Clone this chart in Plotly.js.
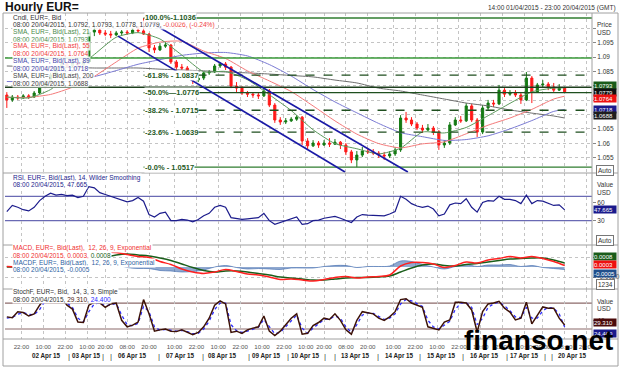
<!DOCTYPE html>
<html>
<head>
<meta charset="utf-8">
<script src="https://cdn.plot.ly/plotly-3.0.1.min.js"></script>
<style>
html,body{margin:0;padding:0;background:#fff;overflow:hidden;}
#chart{width:620px;height:369px;}
</style>
</head>
<body>
<div id="chart"></div>
<script>
// ---------------- DATA ----------------
const barHours = 3;          // one candle = 3 trading hours, x = trading-hour index from 14:00 01/04
const priceOpen = [
1.0768,1.0751,1.0761,1.0758,1.0765,1.0761,1.0775,1.0796,1.0813,1.0838,
1.0862,1.0876,1.0869,1.0879,1.0872,1.0883,1.0987,1.0994,1.0984,1.0980,
1.0977,1.0984,1.0987,1.0984,1.0994,1.0991,1.0980,1.0932,1.0925,1.0938,
1.0942,1.0883,1.0865,1.0862,1.0841,1.0820,1.0827,1.0845,1.0848,1.0869,
1.0876,1.0865,1.0799,1.0792,1.0775,1.0771,1.0768,1.0765,1.0782,1.0733,
1.0681,1.0674,1.0678,1.0684,1.0691,1.0608,1.0591,1.0601,1.0594,1.0601,
1.0597,1.0604,1.0594,1.0570,1.0542,1.0559,1.0573,1.0570,1.0566,1.0559,
1.0556,1.0563,1.0577,1.0688,1.0681,1.0667,1.0653,1.0646,1.0653,1.0639,
1.0594,1.0601,1.0664,1.0681,1.0678,1.0730,1.0681,1.0639,1.0723,1.0740,
1.0737,1.0785,1.0771,1.0775,1.0768,1.0751,1.0827,1.0778,1.0803,1.0806,
1.0796,1.0785,1.0792];
const priceHigh = [
1.0778,1.0768,1.0768,1.0771,1.0771,1.0782,1.0803,1.0820,1.0845,1.0869,
1.0883,1.0883,1.0886,1.0883,1.0890,1.1005,1.1012,1.1001,1.0994,1.0991,
1.0991,1.0994,1.0994,1.1001,1.1008,1.1036,1.0984,1.0942,1.0949,1.0952,
1.0945,1.0890,1.0876,1.0869,1.0848,1.0834,1.0848,1.0855,1.0876,1.0883,
1.0883,1.0869,1.0813,1.0799,1.0782,1.0778,1.0778,1.0796,1.0789,1.0740,
1.0691,1.0688,1.0691,1.0698,1.0695,1.0618,1.0611,1.0608,1.0611,1.0618,
1.0615,1.0608,1.0601,1.0577,1.0573,1.0587,1.0584,1.0580,1.0573,1.0570,
1.0573,1.0587,1.0698,1.0709,1.0691,1.0674,1.0664,1.0667,1.0660,1.0646,
1.0611,1.0674,1.0691,1.0695,1.0740,1.0737,1.0688,1.0733,1.0751,1.0751,
1.0803,1.0792,1.0785,1.0785,1.0775,1.0848,1.0834,1.0810,1.0820,1.0813,
1.0810,1.0806,1.0793];
const priceLow = [
1.0723,1.0744,1.0751,1.0754,1.0754,1.0758,1.0771,1.0792,1.0806,1.0834,
1.0855,1.0862,1.0865,1.0865,1.0869,1.0876,1.0973,1.0977,1.0973,1.0966,
1.0973,1.0977,1.0977,1.0980,1.0984,1.0977,1.0918,1.0914,1.0921,1.0932,
1.0876,1.0855,1.0855,1.0834,1.0806,1.0813,1.0820,1.0838,1.0845,1.0862,
1.0855,1.0792,1.0778,1.0768,1.0761,1.0758,1.0754,1.0761,1.0726,1.0671,
1.0664,1.0667,1.0674,1.0678,1.0594,1.0580,1.0587,1.0584,1.0591,1.0587,
1.0594,1.0580,1.0559,1.0531,1.0517,1.0552,1.0563,1.0559,1.0549,1.0542,
1.0549,1.0556,1.0570,1.0671,1.0660,1.0646,1.0636,1.0643,1.0629,1.0577,
1.0584,1.0594,1.0660,1.0671,1.0674,1.0674,1.0622,1.0632,1.0716,1.0726,
1.0733,1.0761,1.0765,1.0761,1.0737,1.0747,1.0740,1.0775,1.0792,1.0785,
1.0778,1.0782,1.0778];
const priceClose = [
1.0751,1.0761,1.0758,1.0765,1.0761,1.0775,1.0796,1.0813,1.0838,1.0862,
1.0876,1.0869,1.0879,1.0872,1.0883,1.0987,1.0994,1.0984,1.0980,1.0977,
1.0984,1.0987,1.0984,1.0994,1.0991,1.0980,1.0932,1.0925,1.0938,1.0942,
1.0883,1.0865,1.0862,1.0841,1.0820,1.0827,1.0845,1.0848,1.0869,1.0876,
1.0865,1.0799,1.0792,1.0775,1.0771,1.0768,1.0765,1.0782,1.0733,1.0681,
1.0674,1.0678,1.0684,1.0691,1.0608,1.0591,1.0601,1.0594,1.0601,1.0597,
1.0604,1.0594,1.0570,1.0542,1.0559,1.0573,1.0570,1.0566,1.0559,1.0556,
1.0563,1.0577,1.0688,1.0681,1.0667,1.0653,1.0646,1.0653,1.0639,1.0594,
1.0601,1.0664,1.0681,1.0678,1.0730,1.0681,1.0639,1.0723,1.0740,1.0737,
1.0785,1.0771,1.0775,1.0768,1.0751,1.0827,1.0778,1.0803,1.0806,1.0796,
1.0785,1.0792,1.0779];

const smaHours = [0,12,24,36,48,60,72,84,96,108,120,132,144,156,168,180,192,204,216,228,240,252,264,276,288,300,306];
const sma21  = [1.0761,1.0758,1.0787,1.0848,1.0909,1.0969,1.0985,1.0963,1.0907,1.0849,1.0850,1.0821,1.0769,1.0714,1.0647,1.0599,1.0581,1.0563,1.0583,1.0639,1.0636,1.0655,1.0696,1.0739,1.0779,1.0792,1.0793];
const sma55  = [1.0760,1.0760,1.0770,1.0795,1.0833,1.0883,1.0931,1.0952,1.0955,1.0921,1.0895,1.0852,1.0817,1.0780,1.0730,1.0678,1.0632,1.0599,1.0584,1.0598,1.0605,1.0633,1.0663,1.0688,1.0718,1.0754,1.0764];
const sma89  = [1.0815,1.0814,1.0811,1.0818,1.0832,1.0853,1.0875,1.0891,1.0906,1.0914,1.0916,1.0904,1.0874,1.0834,1.0787,1.0744,1.0706,1.0669,1.0637,1.0623,1.0610,1.0613,1.0626,1.0650,1.0679,1.0711,1.0718];
const sma200 = [1.0869,1.0867,1.0865,1.0864,1.0862,1.0862,1.0862,1.0858,1.0855,1.0852,1.0848,1.0845,1.0841,1.0836,1.0831,1.0820,1.0810,1.0792,1.0782,1.0768,1.0754,1.0740,1.0730,1.0716,1.0705,1.0695,1.0688];

const fibLevels = [1.1036,1.0837,1.0776,1.0715,1.0639,1.0517];
const fibLabels = ['100.0%-1.1036','-61.8% - 1.0837','-50.0%\u20141.0776','-38.2% - 1.0715','-23.6% - 1.0639','-0.0% - 1.0517'];
const fibDashed = [false,true,false,true,true,false];
const fibStartHour = 75;
const supportLevels = [1.0897,1.0795];
const channelUpper = {h:[78.5,220], p:[1.1022,1.0500]};
const channelLower = {h:[61,185.5], p:[1.0973,1.0500]};

const rsi = [45,55,52,48,46,52,63,70,75,72, 73,71,72,68,70,86,84,76,73,70,
66,63,61,63,68,62,40,36,42,44, 30,30,32,31,28,32,38,42,52,55,
52,35,34,32,33,34,35,42,30,24, 27,30,33,36,24,25,30,31,34,35,
37,34,30,27,36,40,39,39,38,38, 41,45,70,65,58,54,52,54,49,38,
41,56,59,58,66,52,44,60,63,62, 70,65,65,63,58,72,58,63,62,58,
55,56,47.665];
const rsiLevels = [70,30];

const macdStepHours = 6;
const macdLine = [0.0001,0.0000,-0.0001,0.0002,0.0006,0.0010,0.0012,0.0011,0.0024,0.0030,
0.0029,0.0025,0.0021,0.0019,0.0011,0.0005,-0.0004,-0.0010,-0.0013,-0.0010,
-0.0005,-0.0009,-0.0014,-0.0016,-0.0020,-0.0025,-0.0024,-0.0026,-0.0028,-0.0025,
-0.0021,-0.0019,-0.0022,-0.0020,-0.0019,-0.0016,0.0002,0.0009,0.0009,0.0006,
-0.0001,0.0003,0.0010,0.0008,0.0014,0.0017,0.0021,0.0018,0.0021,0.0017,
0.0011,0.0003];
const macdSignal = [0.0000,0.0000,0.0000,0.0000,0.0002,0.0005,0.0008,0.0010,0.0013,0.0019,
0.0024,0.0026,0.0024,0.0022,0.0018,0.0013,0.0006,-0.0001,-0.0007,-0.0010,
-0.0008,-0.0008,-0.0010,-0.0013,-0.0016,-0.0020,-0.0022,-0.0024,-0.0026,-0.0026,
-0.0024,-0.0022,-0.0021,-0.0021,-0.0020,-0.0018,-0.0010,-0.0002,0.0004,0.0006,
0.0003,0.0002,0.0005,0.0007,0.0010,0.0013,0.0016,0.0017,0.0018,0.0018,
0.0014,0.0008];
const macdHist = [0.0001,0.0000,-0.0001,0.0002,0.0004,0.0005,0.0004,0.0001,0.0011,0.0011,
0.0005,-0.0001,-0.0003,-0.0003,-0.0007,-0.0008,-0.0010,-0.0009,-0.0006,0.0000,
0.0003,-0.0001,-0.0004,-0.0003,-0.0004,-0.0005,-0.0002,-0.0002,-0.0002,0.0001,
0.0003,0.0003,-0.0001,0.0001,0.0001,0.0002,0.0012,0.0011,0.0005,0.0000,
-0.0004,0.0001,0.0005,0.0001,0.0004,0.0004,0.0005,0.0001,0.0003,-0.0001,
-0.0003,-0.0005];

const stochK = [48,46,60,58,50,55,75,92,95,90, 92,75,66,36,35,75,82,80,70,78,
80,40,25,29,36,88,55,15,18,20, 15,14,18,12,7,12,25,45,75,85,
78,12,15,10,18,22,25,50,15,5, 15,30,45,55,8,10,28,35,45,42,
55,40,18,8,40,60,58,55,45,40, 48,60,88,90,80,75,70,25,22,18,
36,41,82,82,80,64,13,60,78,80, 84,68,59,41,45,82,32,52,71,68,
68,45,29.31];
const stochD = [45,47,54,58,54,53,65,85,93,92, 91,80,70,45,36,60,78,81,73,76,
79,52,30,27,33,72,60,25,17,19, 17,15,17,14,9,10,20,38,65,80,
80,30,16,12,15,20,24,42,24,9, 12,25,40,52,22,10,22,32,42,43,
50,45,25,12,30,52,58,56,49,42, 45,55,78,88,85,78,72,40,25,20,
28,38,65,80,81,70,30,45,70,78, 82,74,62,48,46,70,45,45,62,70,
68,55,24.4];
const stochLevels = [80,20];

const timeTickHours = [8,20,32,44,54,66,78,92,104,116,128,140,152,164,174,186,198,212,224,236,248,260,272,284,294,306,318];
const timeTickLabels = ['22:00','10:00','22:00','10:00','20:00','08:00','20:00','10:00','22:00','10:00','22:00','10:00','22:00','10:00','20:00','08:00','20:00','10:00','22:00','10:00','22:00','10:00','22:00','10:00','20:00','08:00','20:00'];
const dateLabelHours = [22,43.5,69,95.5,118.5,142.5,164,191.5,215.5,238.5,262,284,310.5];
const dateLabels = ['02 Apr 15','03 Apr 15','06 Apr 15','07 Apr 15','08 Apr 15','09 Apr 15','10 Apr 15','13 Apr 15','14 Apr 15','15 Apr 15','16 Apr 15','17 Apr 15','20 Apr 15'];
const daySeparatorHours = [34,52.5,57,83.5,107.5,133,154.5,174.5,180,203.5,226.5,250.5,274.5,295,299];
const priceTicks = [1.055,1.06,1.065,1.07,1.075,1.08,1.085,1.09,1.095,1.1];
const priceTickText = ['1.055','1.06','1.065','','','','1.085','1.09','1.095',''];

// ---------------- LAYOUT HELPERS ----------------
const W = 620, H = 369, ML = 5, MR = 28;
const FONT = 'Liberation Sans, Arial, sans-serif';
const px = p => (p - ML) / (W - ML - MR);
const py = p => 1 - p / H;
const X_RANGE = [-1, 321];

const barX = priceClose.map((_, i) => i * barHours);
const macdX = macdLine.map((_, i) => i * macdStepHours);
const last = a => a[a.length - 1];
const f4 = v => v.toFixed(4);

const traces = [];
traces.push({type:'candlestick', x:barX, open:priceOpen, high:priceHigh, low:priceLow, close:priceClose,
  xaxis:'x', yaxis:'y', whiskerwidth:0, hoverinfo:'skip',
  increasing:{line:{color:'#147a14', width:1}, fillcolor:'#147a14'},
  decreasing:{line:{color:'#ff1a1a', width:1}, fillcolor:'#ff1a1a'}});
const smaDefs = [[sma200,'#6e6e6e'],[sma89,'#7b7bd4'],[sma55,'#f47a7a'],[sma21,'#5c9a5c']];
smaDefs.forEach(([arr,c]) => traces.push({type:'scatter', mode:'lines', x:smaHours, y:arr, xaxis:'x', yaxis:'y',
  line:{color:c, width:1, shape:'spline', smoothing:0.6}, hoverinfo:'skip'}));

traces.push({type:'scatter', mode:'lines', x:barX, y:rsi, xaxis:'x2', yaxis:'y2',
  line:{color:'#1c1c8c', width:1.2}, hoverinfo:'skip'});

traces.push({type:'scatter', mode:'lines', x:macdX, y:macdHist, xaxis:'x3', yaxis:'y3', fill:'tozeroy',
  fillcolor:'rgba(52,98,170,0.55)', line:{color:'#3462aa', width:0.6, shape:'spline'}, hoverinfo:'skip'});
traces.push({type:'scatter', mode:'lines', x:macdX, y:macdSignal, xaxis:'x3', yaxis:'y3',
  line:{color:'#1a5e1a', width:1.5, shape:'spline'}, hoverinfo:'skip'});
traces.push({type:'scatter', mode:'lines', x:macdX, y:macdLine, xaxis:'x3', yaxis:'y3',
  line:{color:'#ff2020', width:1.5, shape:'spline'}, hoverinfo:'skip'});

traces.push({type:'scatter', mode:'lines', x:barX, y:stochD, xaxis:'x4', yaxis:'y4',
  line:{color:'#2b2bff', width:1.3, dash:'dot'}, hoverinfo:'skip'});
traces.push({type:'scatter', mode:'lines', x:barX, y:stochK, xaxis:'x4', yaxis:'y4',
  line:{color:'#3d1208', width:1.5}, hoverinfo:'skip'});

// ---------------- SHAPES ----------------
const shapes = [];
fibLevels.forEach((lv, k) => shapes.push({type:'line', xref:'x', yref:'y', x0:fibStartHour, x1:X_RANGE[1], y0:lv, y1:lv,
  line:{color: k===0 || k===5 ? '#2f7d2f' : '#1f4f1f', width:1.3, dash: fibDashed[k] ? 'dash' : 'solid'}, layer:'above'}));
shapes.push({type:'line', xref:'x', yref:'y', x0:X_RANGE[0], x1:X_RANGE[1], y0:supportLevels[0], y1:supportLevels[0], line:{color:'#3a9a3a', width:1.5}});
shapes.push({type:'line', xref:'x', yref:'y', x0:X_RANGE[0], x1:X_RANGE[1], y0:supportLevels[1], y1:supportLevels[1], line:{color:'#1d3f1d', width:1.3}});
[channelUpper, channelLower].forEach(c => shapes.push({type:'line', xref:'x', yref:'y', x0:c.h[0], x1:c.h[1], y0:c.p[0], y1:c.p[1],
  line:{color:'#1a1aa6', width:1.6}}));
rsiLevels.forEach(v => shapes.push({type:'line', xref:'x2', yref:'y2', x0:X_RANGE[0], x1:X_RANGE[1], y0:v, y1:v, line:{color:'#6a6ab4', width:1.2}, layer:'below'}));
stochLevels.forEach(v => shapes.push({type:'line', xref:'x4', yref:'y4', x0:X_RANGE[0], x1:X_RANGE[1], y0:v, y1:v, line:{color:'#8c6a6a', width:1.2}, layer:'below'}));
// frames / panel separators
const frameC = '#a0a0a0';
shapes.push({type:'rect', xref:'paper', yref:'paper', x0:px(3), x1:px(618), y0:py(366), y1:py(13), line:{color:frameC, width:1}});
[173,245,289,339].forEach(y => shapes.push({type:'line', xref:'paper', yref:'paper', x0:px(3), x1:px(618), y0:py(y), y1:py(y), line:{color:frameC, width:1}}));
shapes.push({type:'line', xref:'paper', yref:'paper', x0:px(592), x1:px(592), y0:py(339), y1:py(13), line:{color:frameC, width:1}});

// ---------------- ANNOTATIONS ----------------
const ann = [];
function T(x, y, text, o) {
  o = o || {};
  ann.push(Object.assign({xref:'paper', yref:'paper', x:px(x), y:py(y), text, showarrow:false,
    xanchor:'left', yanchor:'middle', font:{family:FONT, size:6.5, color:'#333'}, borderpad:0}, o));
}
T(4, 7, '<b>Hourly EUR=</b>', {font:{family:FONT, size:12, color:'#111'}});
T(617, 8, '14:00 01/04/2015 - 23:00 20/04/2015 (GMT)', {xanchor:'right', font:{family:FONT, size:6.5, color:'#333'}});

const lastO = last(priceOpen), lastH = last(priceHigh), lastL = last(priceLow), lastC = last(priceClose);
const legendMain = [
  ['Cndl, EUR=, Bid', '#333'],
  [`08:00 20/04/2015, ${f4(lastO)}, ${f4(lastH)}, ${f4(lastL)}, ${f4(lastC)}, <span style="color:#f04040">-0.0026, (-0.24%)</span>`, '#333'],
  ['SMA, EUR=, Bid(Last), 21', '#4b8b4b'], [`08:00 20/04/2015, ${f4(last(sma21))}`, '#4b8b4b'],
  ['SMA, EUR=, Bid(Last), 55', '#f04040'], [`08:00 20/04/2015, ${f4(last(sma55))}`, '#f04040'],
  ['SMA, EUR=, Bid(Last), 89', '#4646aa'], [`08:00 20/04/2015, ${f4(last(sma89))}`, '#4646aa'],
  ['SMA, EUR=, Bid(Last), 200', '#444'], [`08:00 20/04/2015, ${f4(last(sma200))}`, '#444']
];
legendMain.forEach((l, k) => T(12, 17.3 + k * 7.3, l[0], {font:{family:FONT, size:6.6, color:l[1]}, bgcolor:'rgba(255,255,255,0.85)'}));

T(12, 177.5, 'RSI, EUR=, Bid(Last), 14, Wilder Smoothing', {font:{family:FONT, size:6.5, color:'#1c1c8c'}, bgcolor:'#fff'});
T(12, 184.5, `08:00 20/04/2015, ${last(rsi).toFixed(3)}`, {font:{family:FONT, size:6.5, color:'#1c1c8c'}, bgcolor:'#fff'});
T(12, 248, 'MACD, EUR=, Bid(Last),  12, 26, 9, Exponential', {font:{family:FONT, size:6.5, color:'#f03030'}, bgcolor:'#fff'});
T(12, 255, `08:00 20/04/2015, ${f4(last(macdLine))}, <span style="color:#1a5e1a">${f4(last(macdSignal))}</span>`, {font:{family:FONT, size:6.5, color:'#f03030'}, bgcolor:'#fff'});
T(12, 262.5, 'MACDF, EUR=, Bid(Last),  12, 26, 9, Exponential', {font:{family:FONT, size:6.5, color:'#2f5f9f'}, bgcolor:'#fff'});
T(12, 269.5, `08:00 20/04/2015, ${f4(last(macdHist))}`, {font:{family:FONT, size:6.5, color:'#2f5f9f'}, bgcolor:'#fff'});
T(12, 292, 'StochF, EUR=, Bid,  14, 3, 3, Simple', {font:{family:FONT, size:6.5, color:'#333'}, bgcolor:'#fff'});
T(12, 299, `08:00 20/04/2015, <span style="color:#4a1a10">${last(stochK).toFixed(3)}</span>, <span style="color:#2b2bff">${last(stochD).toFixed(3)}</span>`, {font:{family:FONT, size:6.5, color:'#333'}, bgcolor:'#fff'});

// fib labels
fibLevels.forEach((lv, k) => ann.push({xref:'x', yref:'y', x:fibStartHour, y:lv, text:'<b>' + fibLabels[k] + '</b>', showarrow:false,
  xanchor:'left', yanchor:'middle', font:{family:FONT, size:7.5, color:'#1f5a1f'}, bgcolor:'#fff', borderpad:0}));

// right axis captions
T(596, 24, 'Price'); T(596, 32, 'USD');
T(596, 185, 'Value'); T(596, 193, 'USD');
T(596, 301, 'Value'); T(596, 308.5, 'USD');
function box(text, yref, y, bg, shift) {
  ann.push({xref:'paper', yref, x:px(593), y, yshift:shift || 0, text, showarrow:false, xanchor:'left', yanchor:'middle',
    font:{family:FONT, size:6, color:'#fff'}, bgcolor:bg, borderpad:0, width:22, height:7, align:'left'});
}
box(f4(last(sma21)), 'y', last(sma21), '#1a5c1a', 2);
box(f4(lastC), 'y', lastC, '#111', -0.5);
box(f4(last(sma55)), 'y', last(sma55), '#ee1111', -2);
box(f4(last(sma89)), 'y', last(sma89), '#1a1a8c', 0);
box(f4(last(sma200)), 'y', last(sma200), '#1e1e1e', 2);
box(last(rsi).toFixed(3), 'y2', last(rsi), '#1a1a8c', 0);
box(f4(last(macdSignal)), 'y3', last(macdSignal), '#1a5c1a', 7);
box(f4(last(macdLine)), 'y3', last(macdLine), '#ee1111', 1);
box(f4(last(macdHist)), 'y3', last(macdHist), '#1f4f8c', -3.5);
box(last(stochK).toFixed(3), 'y4', last(stochK), '#4a0a0a', 2);
box(last(stochD).toFixed(3), 'y4', last(stochD), '#1a1a8c', -6);
function plainBox(text, y) {
  ann.push({xref:'paper', yref:'paper', x:px(596), y:py(y), text, showarrow:false, xanchor:'left', yanchor:'middle',
    font:{family:FONT, size:6.5, color:'#333'}, bgcolor:'#fff', bordercolor:'#777', borderwidth:1, borderpad:1});
}
plainBox('Auto', 170); plainBox('Auto', 240); plainBox('1234', 284);

// date labels & separators
dateLabels.forEach((d, k) => ann.push({xref:'x4', yref:'paper', x:dateLabelHours[k], y:py(356), text:'<b>' + d + '</b>',
  showarrow:false, xanchor:'center', yanchor:'middle', font:{family:FONT, size:6.3, color:'#222'}}));
daySeparatorHours.forEach(h => ann.push({xref:'x4', yref:'paper', x:h, y:py(356), text:'|', showarrow:false,
  xanchor:'center', yanchor:'middle', font:{family:FONT, size:8, color:'#444'}}));

// watermark
ann.push({xref:'paper', yref:'paper', x:px(462), y:py(340), text:'<b>finanso.net</b>', showarrow:false, xanchor:'left', yanchor:'middle',
  font:{family:FONT, size:28, color:'#000'}});

// ---------------- AXES ----------------
const gridC = '#c4c4c4';
function xa(anchor, showLabels) {
  return {anchor, domain:[0,1], range:X_RANGE, tickvals:timeTickHours, ticktext:timeTickLabels, showticklabels:showLabels,
    tickangle:0, ticklabelstandoff:3, showgrid:true, gridcolor:gridC, griddash:'dot', gridwidth:1, zeroline:false, showline:false,
    ticks:'', automargin:false, tickfont:{family:FONT, size:6.2, color:'#555'}, fixedrange:true, rangeslider:{visible:false}};
}
function ya(domain, range, extra) {
  return Object.assign({domain, range, side:'right', anchor:'x', zeroline:false, showline:false, ticks:'outside', ticklen:3,
    tickcolor:'#888', tickfont:{family:FONT, size:6.5, color:'#333'}, automargin:false, fixedrange:true, showgrid:false}, extra);
}
const layout = {
  width:W, height:H, margin:{l:ML, r:MR, t:0, b:0}, paper_bgcolor:'#fff', plot_bgcolor:'#fff', showlegend:false,
  font:{family:FONT}, boxgap:0.45,
  xaxis:xa('y', false),
  xaxis2:Object.assign(xa('y2', false), {matches:'x'}),
  xaxis3:Object.assign(xa('y3', false), {matches:'x'}),
  xaxis4:Object.assign(xa('y4', true), {matches:'x'}),
  yaxis:ya([py(173), py(13)], [1.04966, 1.10534], {anchor:'x', tickvals:priceTicks, ticktext:priceTickText,
    showgrid:true, gridcolor:gridC, griddash:'dot'}),
  yaxis2:ya([py(245), py(173)], [-10, 108.3], {anchor:'x2', tickvals:[30,60], ticktext:['30','60']}),
  yaxis3:ya([py(289), py(245)], [-0.0044, 0.0044], {anchor:'x3', tickvals:[-0.002,0.002], ticktext:['-0.0020',''],
    showgrid:true, gridcolor:gridC, griddash:'dot'}),
  yaxis4:ya([py(339), py(289)], [-3.1, 112.4], {anchor:'x4', tickvals:[40], ticktext:['40']}),
  shapes, annotations:ann
};
Plotly.newPlot('chart', traces, layout, {staticPlot:true, displayModeBar:false});
</script>
</body>
</html>
